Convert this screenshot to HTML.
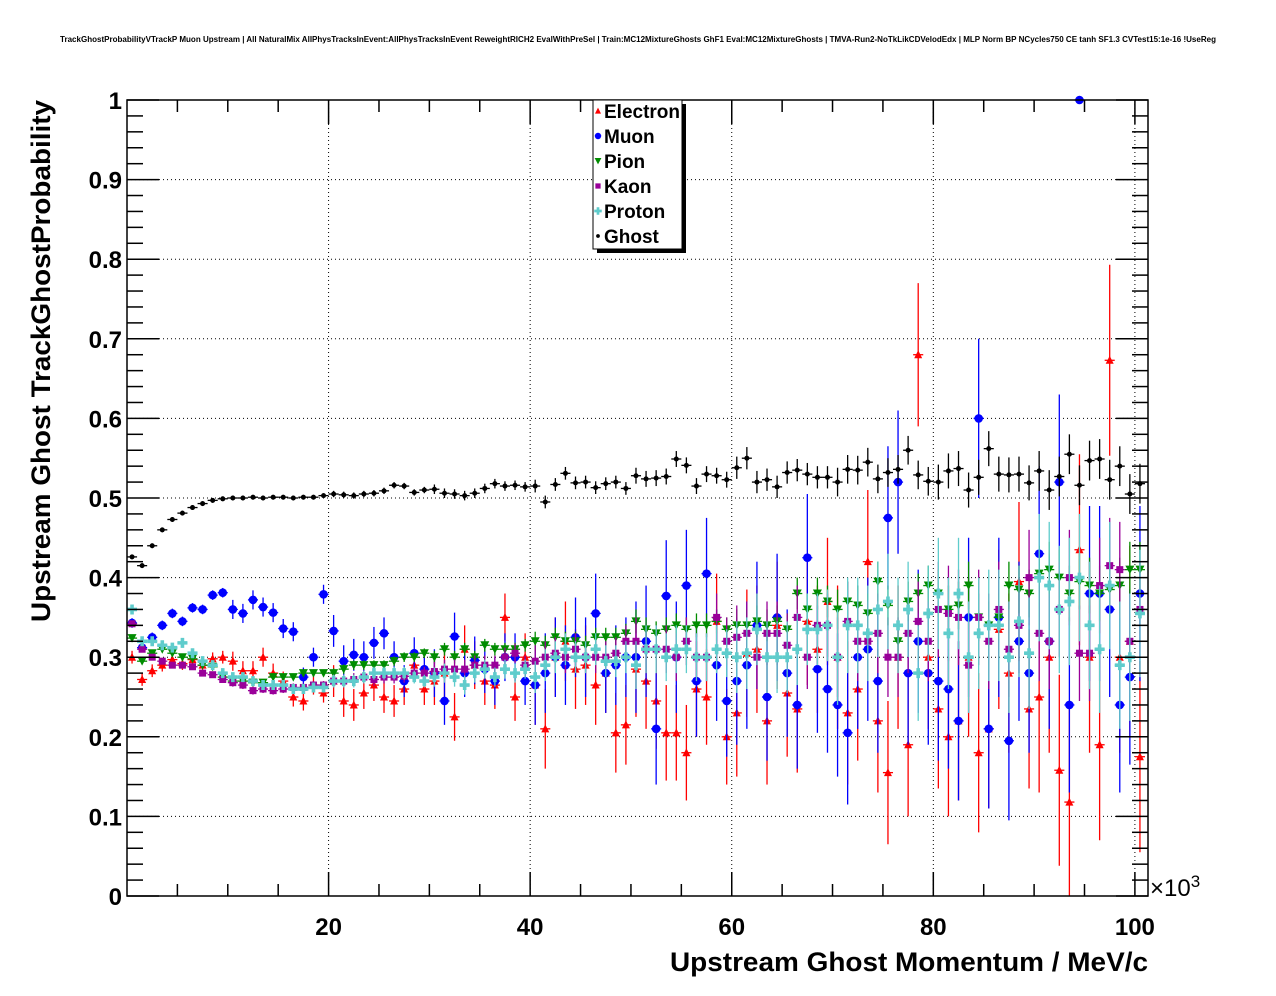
<!DOCTYPE html>
<html><head><meta charset="utf-8"><style>
html,body{margin:0;padding:0;background:#fff;}
svg{display:block;font-family:"Liberation Sans",Arial,sans-serif;}
</style></head><body>
<svg id="chart" width="1276" height="996" viewBox="0 0 1276 996" xmlns="http://www.w3.org/2000/svg">
<rect x="0" y="0" width="1276" height="996" fill="#fff"/>
<text x="638" y="42" font-size="8" font-weight="bold" text-anchor="middle" textLength="1156" lengthAdjust="spacingAndGlyphs">TrackGhostProbabilityVTrackP Muon Upstream | All NaturalMix AllPhysTracksInEvent:AllPhysTracksInEvent ReweightRICH2 EvalWithPreSel | Train:MC12MixtureGhosts GhF1 Eval:MC12MixtureGhosts | TMVA-Run2-NoTkLikCDVelodEdx | MLP Norm BP NCycles750 CE tanh SF1.3 CVTest15:1e-16 !UseReg</text>
<g id="grid"></g>
<g id="marks"></g>
<rect x="127" y="100" width="1021" height="796" fill="none" stroke="#000" stroke-width="1.5"/>
<g id="axes"></g>
<text transform="translate(50,361) rotate(-90)" font-size="27" font-weight="bold" text-anchor="middle" textLength="522" lengthAdjust="spacingAndGlyphs">Upstream Ghost TrackGhostProbability</text>
<text x="1148" y="971" font-size="27" font-weight="bold" text-anchor="end" textLength="478" lengthAdjust="spacingAndGlyphs">Upstream Ghost Momentum / MeV/c</text>
<text x="1150" y="896" font-size="24">×10<tspan font-size="17" dy="-9">3</tspan></text>
<g id="legend">
<rect x="597" y="104" width="89" height="149" fill="#000"/>
<rect x="593" y="100" width="89" height="149" fill="#fff" stroke="#000" stroke-width="1"/>
</g>
</svg>
<script>
const NS="http://www.w3.org/2000/svg";
const electron=[0.3,0.272,0.283,0.29,0.297,0.292,0.297,0.29,0.298,0.3,0.295,0.283,0.283,0.3,0.28,0.27,0.25,0.245,0.265,0.255,0.27,0.245,0.24,0.255,0.265,0.25,0.245,0.26,0.29,0.26,0.27,0.28,0.225,0.31,0.29,0.27,0.265,0.35,0.25,0.3,0.265,0.21,0.3,0.32,0.285,0.29,0.265,0.28,0.205,0.215,0.285,0.27,0.245,0.205,0.205,0.18,0.26,0.25,0.345,0.2,0.23,0.305,0.31,0.22,0.34,0.255,0.235,0.345,0.31,0.37,0.3,0.23,0.26,0.42,0.22,0.155,0.3,0.19,0.68,0.3,0.235,0.2,0.22,0.3,0.18,0.21,0.335,0.28,0.395,0.235,0.25,0.3,0.158,0.118,0.435,0.3,0.19,0.673,0.3,0.32,0.175];
const muon=[0.343,0.312,0.325,0.34,0.355,0.345,0.362,0.36,0.378,0.381,0.36,0.355,0.372,0.363,0.356,0.336,0.332,0.275,0.3,0.379,0.333,0.295,0.303,0.3,0.318,0.33,0.3,0.27,0.305,0.285,0.28,0.245,0.326,0.28,0.296,0.285,0.27,0.3,0.3,0.27,0.265,0.28,0.3,0.29,0.325,0.3,0.355,0.28,0.29,0.3,0.3,0.32,0.21,0.377,0.3,0.39,0.27,0.405,0.29,0.245,0.27,0.29,0.34,0.25,0.35,0.28,0.24,0.425,0.285,0.26,0.24,0.205,0.3,0.31,0.27,0.475,0.52,0.28,0.32,0.28,0.27,0.26,0.22,0.35,0.6,0.21,0.35,0.195,0.32,0.28,0.43,0.32,0.52,0.24,1.0,0.38,0.38,0.36,0.24,0.275,0.38];
const pion=[0.324,0.295,0.305,0.31,0.305,0.3,0.298,0.29,0.288,0.275,0.27,0.27,0.268,0.268,0.275,0.275,0.275,0.28,0.28,0.28,0.28,0.285,0.29,0.29,0.29,0.29,0.295,0.3,0.3,0.305,0.3,0.31,0.3,0.31,0.3,0.315,0.31,0.31,0.31,0.315,0.32,0.315,0.325,0.32,0.32,0.315,0.325,0.325,0.325,0.33,0.345,0.335,0.33,0.335,0.34,0.335,0.34,0.34,0.345,0.335,0.34,0.34,0.345,0.34,0.345,0.335,0.38,0.36,0.38,0.37,0.36,0.37,0.365,0.355,0.395,0.365,0.32,0.37,0.38,0.39,0.38,0.36,0.365,0.39,0.35,0.34,0.35,0.39,0.385,0.38,0.405,0.41,0.4,0.38,0.395,0.39,0.38,0.385,0.39,0.41,0.41];
const kaon=[0.342,0.31,0.3,0.295,0.29,0.29,0.288,0.28,0.278,0.272,0.268,0.265,0.258,0.26,0.258,0.26,0.262,0.262,0.265,0.265,0.27,0.27,0.272,0.275,0.272,0.275,0.275,0.276,0.28,0.28,0.282,0.285,0.285,0.285,0.29,0.29,0.29,0.3,0.305,0.29,0.295,0.3,0.305,0.3,0.31,0.3,0.3,0.3,0.305,0.32,0.32,0.31,0.31,0.31,0.3,0.32,0.3,0.3,0.35,0.32,0.325,0.33,0.3,0.33,0.33,0.315,0.35,0.3,0.34,0.34,0.3,0.345,0.32,0.32,0.33,0.3,0.3,0.33,0.345,0.32,0.36,0.355,0.35,0.29,0.35,0.32,0.36,0.31,0.34,0.4,0.33,0.32,0.36,0.4,0.305,0.305,0.39,0.415,0.41,0.32,0.36];
const proton=[0.36,0.32,0.32,0.315,0.312,0.318,0.305,0.295,0.29,0.28,0.275,0.275,0.27,0.265,0.265,0.265,0.26,0.26,0.262,0.262,0.27,0.27,0.27,0.275,0.28,0.28,0.28,0.28,0.275,0.27,0.275,0.28,0.275,0.265,0.28,0.285,0.275,0.285,0.28,0.285,0.275,0.29,0.3,0.31,0.3,0.3,0.31,0.295,0.295,0.3,0.29,0.31,0.31,0.3,0.31,0.31,0.3,0.3,0.31,0.305,0.3,0.305,0.335,0.3,0.3,0.3,0.31,0.335,0.335,0.34,0.3,0.34,0.34,0.33,0.36,0.37,0.34,0.36,0.28,0.355,0.38,0.33,0.38,0.3,0.33,0.34,0.34,0.3,0.345,0.305,0.4,0.39,0.36,0.37,0.4,0.34,0.31,0.39,0.29,0.3,0.355];
const ghost=[0.426,0.415,0.44,0.46,0.473,0.481,0.488,0.493,0.497,0.499,0.5,0.5,0.501,0.5,0.501,0.501,0.5,0.501,0.501,0.503,0.505,0.504,0.503,0.505,0.506,0.509,0.516,0.515,0.507,0.51,0.511,0.506,0.505,0.503,0.506,0.512,0.518,0.515,0.516,0.514,0.515,0.495,0.517,0.531,0.519,0.52,0.513,0.518,0.52,0.512,0.528,0.524,0.525,0.527,0.549,0.541,0.515,0.53,0.528,0.523,0.538,0.55,0.52,0.523,0.514,0.532,0.535,0.53,0.526,0.526,0.52,0.536,0.535,0.545,0.524,0.532,0.536,0.56,0.529,0.521,0.52,0.534,0.537,0.51,0.526,0.562,0.53,0.529,0.53,0.519,0.534,0.51,0.527,0.555,0.516,0.547,0.549,0.523,0.54,0.505,0.518];
// errors per 10-bin block
const electronErr=[0.008,0.012,0.02,0.03,0.05,0.06,0.08,0.09,0.1,0.12,0.12];
const muonErr=[0.006,0.012,0.02,0.03,0.05,0.07,0.08,0.09,0.1,0.11,0.11];
const pionErr=[0.003,0.004,0.006,0.008,0.012,0.015,0.02,0.025,0.03,0.035,0.035];
const kaonErr=[0.003,0.005,0.008,0.012,0.02,0.03,0.04,0.05,0.06,0.06,0.06];
const protonErr=[0.003,0.005,0.008,0.012,0.02,0.03,0.045,0.06,0.07,0.08,0.08];
const ghostErr=[0.003,0.003,0.004,0.006,0.008,0.01,0.014,0.018,0.022,0.025,0.025];
const xTicks=[20,40,60,80,100];
const yTicks=[0,0.1,0.2,0.3,0.4,0.5,0.6,0.7,0.8,0.9,1];
const yTickLabels=["0","0.1","0.2","0.3","0.4","0.5","0.6","0.7","0.8","0.9","1"];
const legendLabels=["Electron","Muon","Pion","Kaon","Proton","Ghost"];

const X0=127,X1=1148,XMIN=0,XMAX=101.3,Y0=896,Y1=100;
const xs=v=>X0+(v-XMIN)/(XMAX-XMIN)*(X1-X0);
const ys=v=>Y0-v*(Y0-Y1);
function mk(tag,at,parent){const e=document.createElementNS(NS,tag);for(const k in at)e.setAttribute(k,at[k]);parent.appendChild(e);return e;}
const grid=document.getElementById('grid'),axes=document.getElementById('axes'),marks=document.getElementById('marks'),legend=document.getElementById('legend');

xTicks.forEach(t=>{
  const l=mk('line',{x1:xs(t),x2:xs(t),y1:Y1,y2:Y0,stroke:'#000','stroke-width':1,'stroke-dasharray':'1,3'},grid);
  
  
});
yTicks.forEach(t=>{
  if(t<=0||t>=1)return;
  const l=mk('line',{x1:X0,x2:X1,y1:ys(t),y2:ys(t),stroke:'#000','stroke-width':1,'stroke-dasharray':'1,3'},grid);
  
  
});
for(let v=5;v<=100;v+=5){
  const major=v%20===0,len=major?24:12;
  mk('line',{x1:xs(v),x2:xs(v),y1:Y0,y2:Y0-len,stroke:'#000','stroke-width':1.5},axes);
  mk('line',{x1:xs(v),x2:xs(v),y1:Y1,y2:Y1+len,stroke:'#000','stroke-width':1.5},axes);
}
xTicks.forEach(t=>{
  const e=mk('text',{x:xs(t),y:935,'font-size':24,'font-weight':'bold','text-anchor':'middle'},axes);
  e.textContent=t;
  
  
});
for(let k=0;k<=50;k++){
  const v=k*0.02,major=k%5===0,len=major?32:16;
  mk('line',{x1:X0,x2:X0+len,y1:ys(v),y2:ys(v),stroke:'#000','stroke-width':1.5},axes);
  mk('line',{x1:X1,x2:X1-len,y1:ys(v),y2:ys(v),stroke:'#000','stroke-width':1.5},axes);
}
yTicks.forEach((t,i)=>{
  const e=mk('text',{x:122,y:ys(t)+9,'font-size':24,'font-weight':'bold','text-anchor':'end'},axes);
  e.textContent=yTickLabels[i];
  
  
});

function marker(kind,x,y,color,g,s){
  s=s||1;
  if(kind==='tri')return mk('polygon',{points:`${x-4*s},${y+3.5*s} ${x+4*s},${y+3.5*s} ${x},${y-4.5*s}`,fill:color},g);
  if(kind==='circ')return mk('circle',{cx:x,cy:y,r:4.3*s,fill:color},g);
  if(kind==='tridown')return mk('polygon',{points:`${x-4.5*s},${y-4*s} ${x+4.5*s},${y-4*s} ${x},${y+4.5*s}`,fill:color},g);
  if(kind==='sq')return mk('rect',{x:x-3.5*s,y:y-3.5*s,width:7*s,height:7*s,fill:color},g);
  if(kind==='plus')return mk('path',{d:`M${x-5*s},${y-1.8*s}h${3.2*s}v${-3.2*s}h${3.6*s}v${3.2*s}h${3.2*s}v${3.6*s}h${-3.2*s}v${3.2*s}h${-3.6*s}v${-3.2*s}h${-3.2*s}z`,fill:color},g);
  return mk('circle',{cx:x,cy:y,r:2.5*s,fill:color},g);
}
const series=[
 {name:'electron',vals:electron,err:electronErr,color:'#ff0000',kind:'tri'},
 {name:'muon',vals:muon,err:muonErr,color:'#0000ff',kind:'circ'},
 {name:'pion',vals:pion,err:pionErr,color:'#008c00',kind:'tridown'},
 {name:'kaon',vals:kaon,err:kaonErr,color:'#990099',kind:'sq'},
 {name:'proton',vals:proton,err:protonErr,color:'#5fcccc',kind:'plus'},
 {name:'ghost',vals:ghost,err:ghostErr,color:'#000000',kind:'dot'}
];
series.forEach(s=>{
  const g=mk('g',{},marks);
  
  
  s.vals.forEach((v,i)=>{
    const cx=xs(i+0.5),cy=ys(v),e=s.err[Math.floor(i/10)]*(v>=0.99?0:1);
    const hw=(xs(1)-xs(0))/2;
    mk('line',{x1:cx-hw,x2:cx+hw,y1:cy,y2:cy,stroke:s.color,'stroke-width':1.3},g);
    if(e>0)mk('line',{x1:cx,x2:cx,y1:ys(Math.min(v+e,1)),y2:ys(Math.max(v-e,0)),stroke:s.color,'stroke-width':1.3},g);
    const m=marker(s.kind,cx,cy,s.color,g);
    
    
  });
});
series.forEach((s,i)=>{
  const y=111+i*25;
  const m=marker(s.kind,598,y,s.color,legend,0.75);
  
  
  const t=mk('text',{x:604,y:y+7,'font-size':19,'font-weight':'bold'},legend);
  t.textContent=legendLabels[i];
  
  
});
</script>
</body></html>
